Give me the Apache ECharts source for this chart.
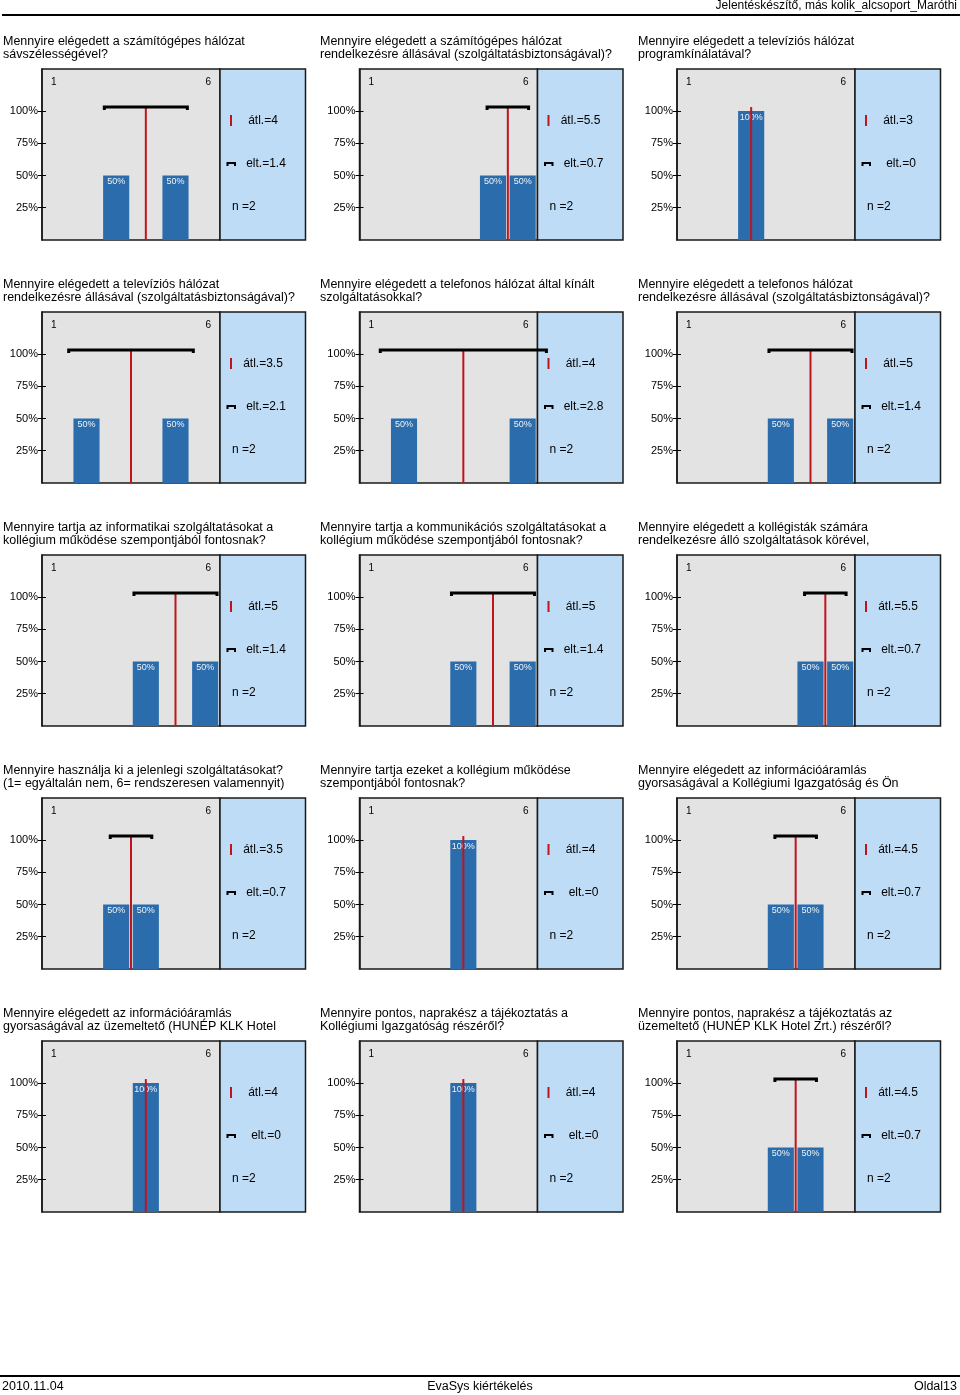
<!DOCTYPE html>
<html><head><meta charset="utf-8">
<script src="https://cdn.jsdelivr.net/npm/echarts@6/dist/echarts.min.js"></script>
<style>html,body{margin:0;padding:0;background:#fff}#c{width:960px;height:1395px}</style>
</head><body><div id="c"></div>
<script>
// ---------- data ----------
const categories = ['1', '2', '3', '4', '5', '6'];
const titles = [
  'Mennyire elégedett a számítógépes hálózat\nsávszélességével?',
  'Mennyire elégedett a számítógépes hálózat\nrendelkezésre állásával (szolgáltatásbiztonságával)?',
  'Mennyire elégedett a televíziós hálózat\nprogramkínálatával?',
  'Mennyire elégedett a televíziós hálózat\nrendelkezésre állásával (szolgáltatásbiztonságával)?',
  'Mennyire elégedett a telefonos hálózat által kínált\nszolgáltatásokkal?',
  'Mennyire elégedett a telefonos hálózat\nrendelkezésre állásával (szolgáltatásbiztonságával)?',
  'Mennyire tartja az informatikai szolgáltatásokat a\nkollégium működése szempontjából fontosnak?',
  'Mennyire tartja a kommunikációs szolgáltatásokat a\nkollégium működése szempontjából fontosnak?',
  'Mennyire elégedett a kollégisták számára\nrendelkezésre álló szolgáltatások körével,',
  'Mennyire használja ki a jelenlegi szolgáltatásokat?\n(1= egyáltalán nem, 6= rendszeresen valamennyit)',
  'Mennyire tartja ezeket a kollégium működése\nszempontjából fontosnak?',
  'Mennyire elégedett az információáramlás\ngyorsaságával a Kollégiumi Igazgatóság és Ön',
  'Mennyire elégedett az információáramlás\ngyorsaságával az üzemeltető (HUNÉP KLK Hotel',
  'Mennyire pontos, naprakész a tájékoztatás a\nKollégiumi Igazgatóság részéről?',
  'Mennyire pontos, naprakész a tájékoztatás az\nüzemeltető (HUNÉP KLK Hotel Zrt.) részéről?'
];
const distributions = [
  [0, 0, 50, 0, 50, 0],
  [0, 0, 0, 0, 50, 50],
  [0, 0, 100, 0, 0, 0],
  [0, 50, 0, 0, 50, 0],
  [0, 50, 0, 0, 0, 50],
  [0, 0, 0, 50, 0, 50],
  [0, 0, 0, 50, 0, 50],
  [0, 0, 0, 50, 0, 50],
  [0, 0, 0, 0, 50, 50],
  [0, 0, 50, 50, 0, 0],
  [0, 0, 0, 100, 0, 0],
  [0, 0, 0, 50, 50, 0],
  [0, 0, 0, 100, 0, 0],
  [0, 0, 0, 100, 0, 0],
  [0, 0, 0, 50, 50, 0]
];
const means = [4, 5.5, 3, 3.5, 4, 5, 5, 5, 5.5, 3.5, 4, 4.5, 4, 4, 4.5];
const sds = [1.4, 0.7, 0, 2.1, 2.8, 1.4, 1.4, 1.4, 0.7, 0.7, 0, 0.7, 0, 0, 0.7];
const ns = [2, 2, 2, 2, 2, 2, 2, 2, 2, 2, 2, 2, 2, 2, 2];
const yTicks = [25, 50, 75, 100];
const headerText = 'Jelentéskészítő, más kolik_alcsoport_Maróthi';
const footerLeft = '2010.11.04';
const footerCenter = 'EvaSys kiértékelés';
const footerRight = 'Oldal13';

// ---------- layout / style ----------
const FONT = '"Liberation Sans", Arial, sans-serif';
const colLeft = [42, 359.5, 677];
const titleLeft = [3, 320, 638];
const rowTop = [69, 312, 555, 798, 1041];
const PLOT_W = 178, PLOT_H = 171, BOX_W = 85.5;
const Y_MAX = 132.5, BRACKET_Y = 103;
const BAR_COLOR = '#2b6cad', GRAY = '#e3e3e3', BOX_COLOR = '#bedcf5', RED = '#c0141c';

const grids = [], xAxes = [], yAxes = [], series = [], graphics = [];

function txt(x, y, text, size, align, extra) {
  return Object.assign({
    type: 'text', x: x, y: y, silent: true,
    style: { text: text, font: size + 'px ' + FONT, fill: '#000',
      align: align || 'left', textAlign: align || 'left',
      verticalAlign: 'middle', textVerticalAlign: 'middle' }
  }, extra || {});
}

titles.forEach((t, i) => {
  const r = Math.floor(i / 3), c = i % 3;
  const left = colLeft[c], top = rowTop[r];
  grids.push({ left: left, top: top, width: PLOT_W, height: PLOT_H, show: true,
    backgroundColor: GRAY, borderColor: '#1a1a1a', borderWidth: 1.5 });
  xAxes.push({ type: 'category', gridIndex: i, data: categories, position: 'top',
    axisLine: { show: false }, axisTick: { show: false },
    axisLabel: { inside: true, margin: 8, interval: 0, fontSize: 10, fontFamily: FONT, color: '#000',
      formatter: (v, idx) => idx === 0 ? '{a|' + v + '}' : (idx === categories.length - 1 ? '{b|' + v + '}' : ''),
      rich: { a: { fontSize: 10, fontFamily: FONT, padding: [0, 6, 0, 0] },
              b: { fontSize: 10, fontFamily: FONT, padding: [0, 0, 0, 6] } } } });
  xAxes.push({ type: 'value', gridIndex: i, min: 0.5, max: 6.5, show: false, position: 'bottom' });
  yAxes.push({ type: 'value', gridIndex: i, min: 0, max: Y_MAX, position: 'left',
    splitLine: { show: false },
    axisLine: { show: true, lineStyle: { color: '#1a1a1a', width: 1.5 } },
    axisTick: { show: true, length: 4, inside: false, customValues: yTicks, lineStyle: { color: '#000' } },
    axisLabel: { customValues: yTicks, formatter: '{value}%', fontSize: 11, fontFamily: FONT, color: '#000', margin: 4 } });
  yAxes.push({ type: 'value', gridIndex: i, min: 0, max: Y_MAX, position: 'left',
    splitLine: { show: false }, axisLine: { show: false }, axisLabel: { show: false },
    axisTick: { show: true, length: 4, inside: true, customValues: yTicks, lineStyle: { color: '#000' } } });

  series.push({ type: 'bar', xAxisIndex: 2 * i, yAxisIndex: 2 * i, data: distributions[i],
    barCategoryGap: '12%', itemStyle: { color: BAR_COLOR }, silent: true, animation: false,
    label: { show: true, position: 'insideTop', distance: 2, fontSize: 9, fontFamily: FONT, color: '#f2f2f2',
      formatter: p => p.value ? p.value + '%' : '' } });
  series.push({ type: 'custom', xAxisIndex: 2 * i + 1, yAxisIndex: 2 * i, clip: false, silent: true,
    animation: false, z: 5, encode: { x: 0, y: 1 }, data: [[means[i], sds[i]]],
    renderItem: (params, api) => {
      const m = api.value(0), s = api.value(1);
      const b = api.coord([m, 0]), tp = api.coord([m, BRACKET_Y]);
      const ch = [{ type: 'line', shape: { x1: b[0], y1: b[1], x2: tp[0], y2: tp[1] },
        style: { stroke: RED, lineWidth: 2 } }];
      if (s > 0) {
        const l = api.coord([m - s, BRACKET_Y]), rr = api.coord([m + s, BRACKET_Y]);
        ch.push({ type: 'polyline', shape: { points: [[l[0], l[1] + 3], [l[0], l[1]], [rr[0], rr[1]], [rr[0], rr[1] + 3]] },
          style: { stroke: '#000', lineWidth: 3, fill: null } });
      }
      return { type: 'group', children: ch };
    } });

  const bx = left + PLOT_W;
  graphics.push({ type: 'rect', shape: { x: bx, y: top, width: BOX_W, height: PLOT_H }, silent: true,
    style: { fill: BOX_COLOR, stroke: '#1a1a1a', lineWidth: 1.5 } });
  graphics.push({ type: 'line', shape: { x1: bx + 11, y1: top + 46, x2: bx + 11, y2: top + 57 }, silent: true,
    style: { stroke: RED, lineWidth: 2 } });
  graphics.push(txt(bx + 43, top + 51.5, 'átl.=' + means[i], 12, 'center'));
  graphics.push({ type: 'polyline', shape: { points: [[bx + 7.5, top + 97], [bx + 7.5, top + 94], [bx + 15, top + 94], [bx + 15, top + 97]] },
    silent: true, style: { stroke: '#000', lineWidth: 2, fill: null } });
  graphics.push(txt(bx + 46, top + 95, 'elt.=' + sds[i], 12, 'center'));
  graphics.push(txt(bx + 12, top + 137.5, 'n =' + ns[i], 12, 'left'));
  graphics.push({ type: 'text', x: titleLeft[c], y: top - 33.5, silent: true,
    style: { text: t, font: '12.5px ' + FONT, fill: '#000', lineHeight: 12.5,
      align: 'left', textAlign: 'left', verticalAlign: 'top', textVerticalAlign: 'top' } });
});

graphics.push(txt(957, 6, headerText, 12, 'right'));
graphics.push({ type: 'line', shape: { x1: 2, y1: 15, x2: 960, y2: 15 }, silent: true, style: { stroke: '#000', lineWidth: 2 } });
graphics.push({ type: 'line', shape: { x1: 0, y1: 1376, x2: 960, y2: 1376 }, silent: true, style: { stroke: '#000', lineWidth: 2 } });
graphics.push(txt(2, 1387, footerLeft, 12.5, 'left'));
graphics.push(txt(480, 1387, footerCenter, 12.5, 'center'));
graphics.push(txt(957, 1387, footerRight, 12.5, 'right'));

const chart = echarts.init(document.getElementById('c'), null, { renderer: 'canvas' });
chart.setOption({
  animation: false,
  backgroundColor: '#fff',
  grid: grids, xAxis: xAxes, yAxis: yAxes, series: series,
  graphic: { elements: graphics.map(g => Object.assign({ z: 1 }, g)) }
});
</script></body></html>
